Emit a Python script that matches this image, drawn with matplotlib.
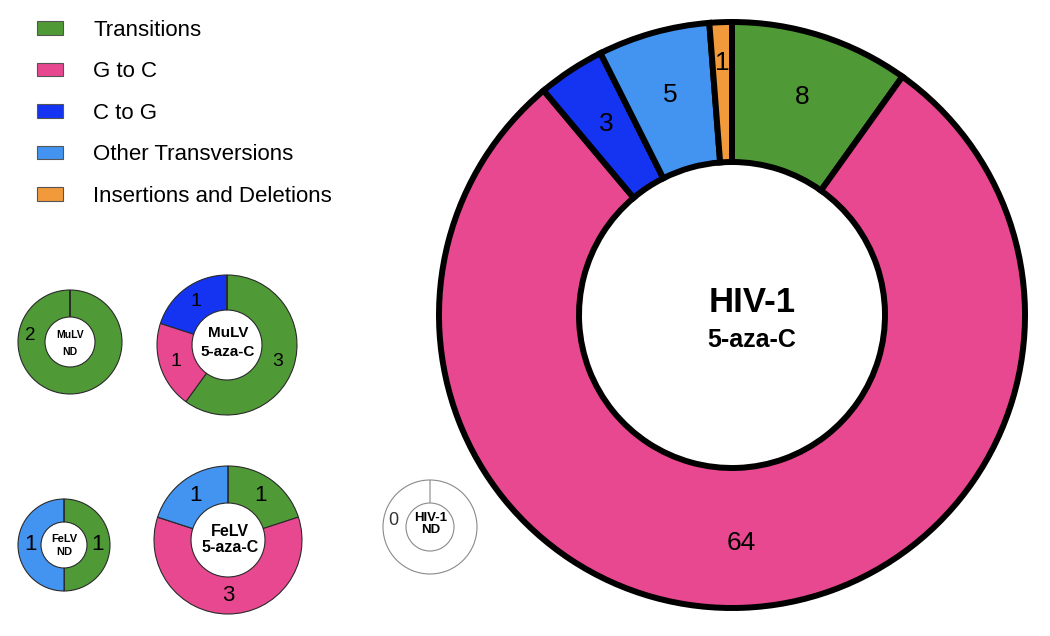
import numpy as np
import matplotlib
matplotlib.use('Agg')
import matplotlib.pyplot as plt
from matplotlib.patches import Patch

plt.rcParams['font.family'] = ['Liberation Sans', 'DejaVu Sans']

categorias = ['Transitions', 'G to C', 'C to G', 'Other Transversions', 'Insertions and Deletions']
cores = ['#4f9a36', '#e8488f', '#1434f2', '#4394f1', '#f09a3c']

hiv_aza = [8, 64, 3, 5, 1]
mulv_nd = [2, 0, 0, 0, 0]
mulv_aza = [3, 1, 1, 0, 0]
felv_nd = [1, 0, 0, 1, 0]
felv_aza = [1, 3, 0, 1, 0]
hiv_nd = [0, 0, 0, 0, 0]

W, H = 1050, 636

# (valores, nome, sub, centro px, raio, raio do furo, borda, lw, fonte numeros, fonte nome, fonte sub, frac, deslocamento texto)
donuts = [
    (hiv_aza, 'HIV-1', '5-aza-C', (732, 315), 293, 153, 'black', 4.3, 19, 25, 18, 0.78, (20, -13, 38)),
    (mulv_nd, 'MuLV', 'ND', (70, 342), 52, 25, '#2a2a2a', 0.8, 13.5, 7.5, 7.5, 0.77, (0, -7, 17)),
    (mulv_aza, 'MuLV', '5-aza-C', (227, 345), 70, 35, '#2a2a2a', 0.8, 14, 11, 11, 0.76, (1, -12, 19)),
    (felv_nd, 'FeLV', 'ND', (64, 545), 46, 23, '#2a2a2a', 0.8, 16, 8, 8, 0.72, (0, -6, 13)),
    (felv_aza, 'FeLV', '5-aza-C', (228, 540), 74, 37, '#2a2a2a', 0.8, 16, 11.5, 11.5, 0.75, (2, -8, 16)),
    (hiv_nd, 'HIV-1', 'ND', (430, 527), 47, 24, '#8a8a8a', 0.8, 13, 9.5, 9.5, 0.79, (1, -9, 12)),
]

fig = plt.figure(figsize=(W / 100, H / 100), dpi=100)
ax = fig.add_axes([0, 0, 1, 1])

for vals, nome, sub, (cx, cy), r, furo, borda, lw, fnum, fnome, fsub, frac, (ox, oy, dy) in donuts:
    c = (cx, H - cy)
    total = sum(vals)
    if total == 0:
        fatias, cs = [1, 0], ['white', 'white']
    else:
        fatias, cs = vals, cores
    wedges, _ = ax.pie(fatias, colors=cs, radius=r, center=c, startangle=90,
                       counterclock=False,
                       wedgeprops=dict(width=r - furo, edgecolor=borda, linewidth=lw))
    # rótulos com a contagem
    nz = [i for i, v in enumerate(vals) if v > 0]
    if total == 0 or len(nz) == 1:
        ang = np.deg2rad(90 - 280)
        ax.text(c[0] + frac * r * np.cos(ang), c[1] + frac * r * np.sin(ang), str(total),
                ha='center', va='center', fontsize=fnum,
                color='#333333' if total == 0 else 'black')
    else:
        for i in nz:
            w = wedges[i]
            ang = np.deg2rad((w.theta1 + w.theta2) / 2)
            f = frac
            if vals[i] / total < 0.03:
                f = frac + 0.08
            ax.text(c[0] + f * r * np.cos(ang), c[1] + f * r * np.sin(ang), str(vals[i]),
                    ha='center', va='center', fontsize=fnum)
    ax.text(c[0] + ox, c[1] - oy, nome, ha='center', va='center',
            fontsize=fnome, fontweight='bold')
    ax.text(c[0] + ox, c[1] - oy - dy, sub, ha='center', va='center',
            fontsize=fsub, fontweight='bold')

handles = [Patch(facecolor=cor, edgecolor='#555555', linewidth=0.8) for cor in cores]
ax.legend(handles, categorias, loc='upper left', bbox_to_anchor=(37, H - 20),
          bbox_transform=ax.transData, frameon=False, fontsize=16,
          handlelength=1.17, handleheight=0.55, handletextpad=1.35,
          labelspacing=0.92, borderpad=0, borderaxespad=0)

ax.set_xlim(0, W)
ax.set_ylim(0, H)
ax.set_aspect('equal')
ax.axis('off')

fig.savefig('out.png', dpi=100)
